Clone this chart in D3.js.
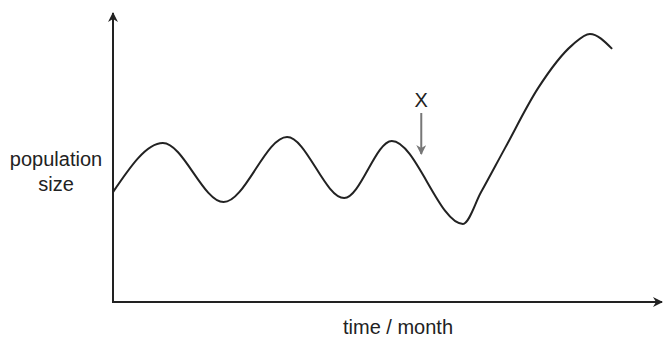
<!DOCTYPE html>
<html>
<head>
<meta charset="utf-8">
<script src="https://cdn.jsdelivr.net/npm/d3@7"></script>
<style>
  body { margin: 0; background: #fff; }
  text { font-family: "Liberation Sans", Arial, sans-serif; fill: #222; }
</style>
</head>
<body>
<svg width="670" height="347"></svg>
<script>
// time in months, population size (arbitrary units)
const months = [0, 1.1, 2.44, 3.84, 5.10, 6.15, 7.72, 8.12, 8.65, 9.38, 10.13, 10.52, 11.01];
const population = [38.3, 55.4, 34.8, 57.5, 36.2, 56.1, 27.2, 38.3, 53.7, 74.6, 89.5, 93.4, 88.2];
const markerMonth = 6.8;

const svg = d3.select('svg');
const x = d3.scaleLinear().domain([0, 12]).range([113, 657]);
const y = d3.scaleLinear().domain([0, 100]).range([302, 15]);

const defs = svg.append('defs');
function arrowHead(id, color) {
  defs.append('marker')
    .attr('id', id)
    .attr('viewBox', '0 0 10 10')
    .attr('refX', 9).attr('refY', 5)
    .attr('markerWidth', 10).attr('markerHeight', 10)
    .attr('markerUnits', 'userSpaceOnUse')
    .attr('orient', 'auto')
    .append('path')
    .attr('d', 'M0,0 L10,5 L0,10 L3,5 Z')
    .attr('fill', color);
}
arrowHead('ax', '#222');
arrowHead('gx', '#777');

// axes
svg.append('line')
  .attr('x1', x(0)).attr('y1', y(0))
  .attr('x2', x(0)).attr('y2', 13)
  .attr('stroke', '#222').attr('stroke-width', 2)
  .attr('marker-end', 'url(#ax)');
svg.append('line')
  .attr('x1', x(0) - 1).attr('y1', y(0))
  .attr('x2', 662).attr('y2', y(0))
  .attr('stroke', '#222').attr('stroke-width', 2)
  .attr('marker-end', 'url(#ax)');

// curve
const line = d3.line()
  .x((d, i) => x(months[i]))
  .y(d => y(d))
  .curve(d3.curveMonotoneX);

svg.append('path')
  .datum(population)
  .attr('fill', 'none')
  .attr('stroke', '#222')
  .attr('stroke-width', 2)
  .attr('d', line);

// marker X
svg.append('line')
  .attr('x1', x(markerMonth)).attr('y1', 113)
  .attr('x2', x(markerMonth)).attr('y2', 154)
  .attr('stroke', '#777').attr('stroke-width', 2)
  .attr('marker-end', 'url(#gx)');
svg.append('text')
  .attr('x', x(markerMonth)).attr('y', 107)
  .attr('text-anchor', 'middle')
  .attr('font-size', '20px')
  .text('X');

// labels
svg.append('text')
  .attr('x', 56).attr('y', 166)
  .attr('text-anchor', 'middle')
  .attr('font-size', '20px')
  .text('population');
svg.append('text')
  .attr('x', 56).attr('y', 191)
  .attr('text-anchor', 'middle')
  .attr('font-size', '20px')
  .text('size');
svg.append('text')
  .attr('x', 398).attr('y', 334)
  .attr('text-anchor', 'middle')
  .attr('font-size', '20px')
  .text('time / month');
</script>
</body>
</html>
